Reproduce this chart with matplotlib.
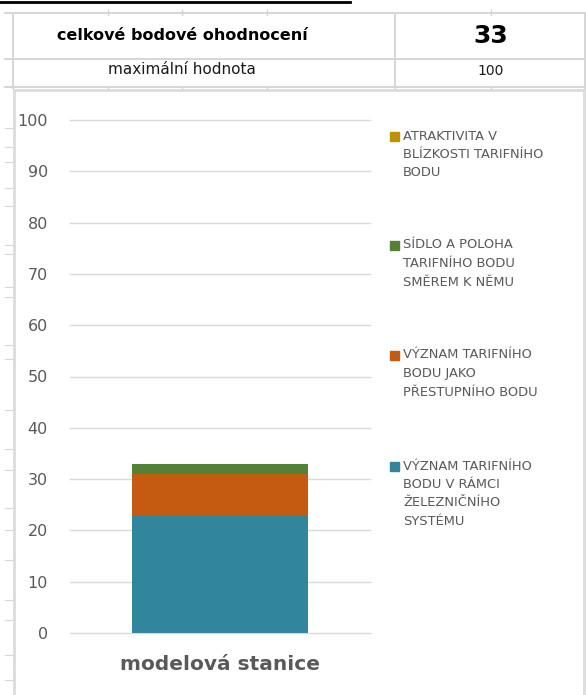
import matplotlib as mpl
mpl.use('Agg')
import matplotlib.pyplot as plt
from matplotlib.lines import Line2D
from matplotlib.patches import Rectangle

plt.rcParams['font.family'] = ['DejaVu Sans']

# summary table
table_labels = ['celkové bodové ohodnocení', 'maximální hodnota']
table_values = ['33', '100']

# stacked bar data (bottom to top)
station = 'modelová stanice'
series_names = [
    'VÝZNAM TARIFNÍHO\nBODU V RÁMCI\nŽELEZNIČNÍHO\nSYSTÉMU',
    'VÝZNAM TARIFNÍHO\nBODU JAKO\nPŘESTUPNÍHO BODU',
    'SÍDLO A POLOHA\nTARIFNÍHO BODU\nSMĚREM K NĚMU',
    'ATRAKTIVITA V\nBLÍZKOSTI TARIFNÍHO\nBODU',
]
series_values = [23, 8, 2, 0]
series_colors = ['#31859c', '#c55a11', '#538135', '#bf9000']
yticks = [0, 10, 20, 30, 40, 50, 60, 70, 80, 90, 100]

W, H = 586, 695
fig = plt.figure(figsize=(W / 100, H / 100), dpi=100)


def fx(x):
    return x / W


def fy(y):
    return 1 - y / H


def hline(y, x0, x1, color='#d6d6d6', lw=1.4):
    fig.add_artist(Line2D([fx(x0), fx(x1)], [fy(y), fy(y)], color=color, lw=lw))


def vline(x, y0, y1, color='#d6d6d6', lw=1.4):
    fig.add_artist(Line2D([fx(x), fx(x)], [fy(y0), fy(y1)], color=color, lw=lw))


# heading underline
hline(1.5, 0, 350, color='black', lw=2)

# spreadsheet grid around the table
hline(13, 5, 586)
hline(59, 5, 586)
hline(87, 5, 586)
vline(13, 13, 88)
vline(395, 13, 88)
vline(585, 13, 88)
for gx in [108, 182, 267, 491]:
    vline(gx, 10, 15, lw=1)
    vline(gx, 86, 90, lw=1)

fig.text(fx(182), fy(36), table_labels[0], ha='center', va='center',
         fontsize=11.5, fontweight='bold', color='black')
fig.text(fx(491), fy(36), table_values[0], ha='center', va='center',
         fontsize=18, fontweight='bold', color='black')
fig.text(fx(182), fy(70), table_labels[1], ha='center', va='center',
         fontsize=11, color='#1a1a1a')
fig.text(fx(491), fy(71), table_values[1], ha='center', va='center',
         fontsize=10, color='#1a1a1a')

# chart frame
vline(14, 90, 700, color='#dcdcdc', lw=2)
vline(584, 90, 700, color='#dcdcdc', lw=2)
hline(90, 14, 584, color='#dcdcdc', lw=2)
for ry in [128, 147, 162, 188, 206, 245, 254, 287, 297, 345, 359, 410, 449, 470,
           508, 530, 560, 600, 620, 655, 680]:
    hline(ry, 5, 12, lw=0.8)

# plot area: y=0 at 633 px, y=100 at 120 px
ax = fig.add_axes([fx(70), fy(633), fx(370) - fx(70), fy(120) - fy(633)])
ax.set_xlim(-0.5, 0.5)
ax.set_ylim(0, 100)
for s in ax.spines.values():
    s.set_visible(False)
for t in yticks:
    ax.axhline(t, color='#d9d9d9', lw=1, zorder=0, clip_on=False)

bottom = 0
for val, col in zip(series_values, series_colors):
    ax.bar(0, val, width=0.587, bottom=bottom, color=col, zorder=2)
    bottom += val

ax.set_yticks(yticks)
ax.set_yticklabels([str(t) for t in yticks])
ax.tick_params(axis='y', length=0, pad=16, labelsize=11.5, labelcolor='#595959')
ax.set_xticks([0])
ax.set_xticklabels([station])
ax.tick_params(axis='x', length=0, pad=16, labelsize=14.5, labelcolor='#595959')
for lbl in ax.get_xticklabels():
    lbl.set_fontweight('bold')

# legend, top entry is the last series
legend_y = [136, 245, 355, 466]
for name, col, ly in zip(series_names[::-1], series_colors[::-1], legend_y):
    fig.add_artist(Rectangle((fx(390), fy(ly + 4.5)), 9 / W, 9 / H,
                             transform=fig.transFigure, color=col))
    fig.text(fx(403), fy(ly - 6.5), name, ha='left', va='top', fontsize=9.4,
             color='#595959', linespacing=1.55)

fig.savefig('out.png', dpi=100)
